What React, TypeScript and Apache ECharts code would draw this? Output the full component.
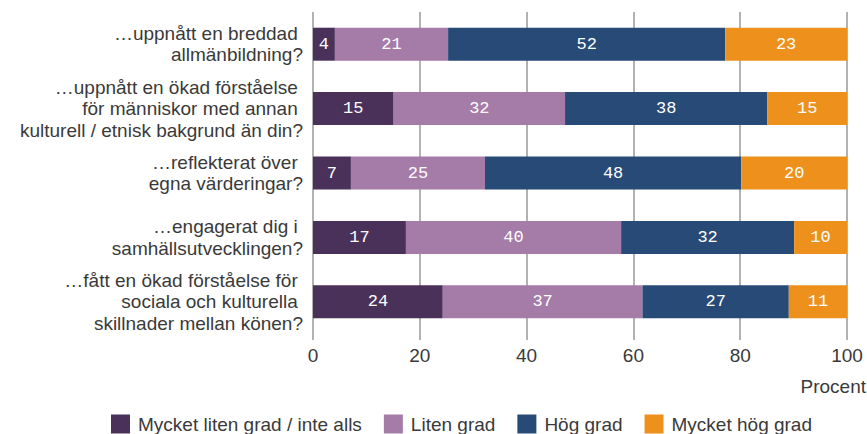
import React, { useEffect, useRef } from "react";
import * as echarts from "echarts";

const NB = "\u00a0";
const categories = [
  "…uppnått en breddad" + NB + "\nallmänbildning?",
  "…uppnått en ökad förståelse" + NB + "\nför människor med annan" + NB + "\nkulturell / etnisk bakgrund än din?",
  "…reflekterat över" + NB + "\negna värderingar?",
  "…engagerat dig i" + NB + "\nsamhällsutvecklingen?",
  "…fått en ökad förståelse för" + NB + "\nsociala och kulturella" + NB + "\nskillnader mellan könen?",
];
const seriesNames = ["Mycket liten grad / inte alls", "Liten grad", "Hög grad", "Mycket hög grad"];
// bar lengths (unrounded, as drawn); labels show the rounded values
const veryLow = [4.1, 15.1, 7.1, 17.4, 24.3];
const low = [21.2, 32.1, 25.1, 40.3, 37.4];
const high = [51.9, 37.9, 48.0, 32.4, 27.4];
const veryHigh = [22.8, 14.9, 19.8, 9.9, 10.9];
const xTicks = [0, 20, 40, 60, 80, 100];
const axisName = "Procent";

const colors = ["#4a3159", "#a57ba8", "#274a76", "#ee911c"];
const FONT = "Liberation Sans";
const TEXT = "#3a3a3a";

export default function App() {
  const ref = useRef<HTMLDivElement>(null);
  useEffect(() => {
    document.body.style.margin = "0";
    const chart = echarts.init(ref.current!, null, { renderer: "svg" });
    const values = [veryLow, low, high, veryHigh];
    chart.setOption({
      animation: false,
      textStyle: { fontFamily: FONT },
      grid: { left: 313, right: 20, top: 12, bottom: 100, containLabel: false },
      xAxis: {
        type: "value",
        min: xTicks[0],
        max: xTicks[xTicks.length - 1],
        interval: 20,
        axisLine: { show: false },
        axisTick: { show: true, length: 6, lineStyle: { color: "#999", width: 1.5 } },
        splitLine: { show: true, lineStyle: { color: "#999", width: 1.5 } },
        axisLabel: {
          margin: 12,
          color: TEXT,
          fontSize: 19,
          fontFamily: FONT,
        },
      },
      yAxis: {
        type: "category",
        inverse: true,
        data: categories,
        axisLine: { show: false },
        axisTick: { show: false },
        axisLabel: {
          margin: 10,
          color: TEXT,
          fontSize: 19,
          lineHeight: 21.5,
          fontFamily: FONT,
          align: "right",
        },
      },
      legend: {
        left: 106,
        top: 409,
        itemWidth: 19,
        itemHeight: 19,
        itemGap: 22,
        icon: "rect",
        textStyle: { fontSize: 19, lineHeight: 20, color: TEXT, fontFamily: FONT, padding: [0, 0, 0, 3] },
        data: seriesNames,
      },
      graphic: [
        {
          type: "text",
          right: 1,
          top: 377,
          style: { text: axisName, fontSize: 19, fill: TEXT, fontFamily: FONT },
        },
      ],
      series: seriesNames.map((name, i) => ({
        name,
        type: "bar",
        stack: "total",
        barWidth: 33,
        itemStyle: { color: colors[i] },
        label: {
          show: true,
          position: "inside",
          color: "#fff",
          fontSize: 17,
          fontFamily: "Liberation Mono",
          formatter: (p: any) => String(Math.round(p.value)),
        },
        data: values[i],
      })),
    });
    return () => chart.dispose();
  }, []);
  return <div ref={ref} style={{ width: 867, height: 434 }} />;
}
